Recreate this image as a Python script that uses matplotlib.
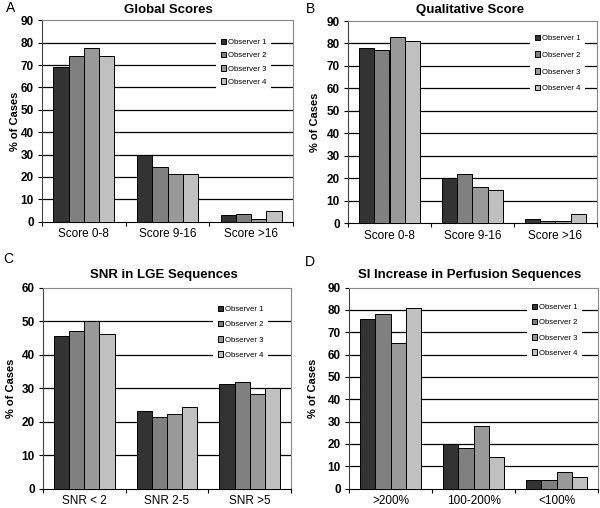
import matplotlib
matplotlib.use('Agg')
import matplotlib.pyplot as plt
import numpy as np

plt.rcParams['font.family'] = ['Liberation Sans', 'DejaVu Sans']

observers = ['Observer 1', 'Observer 2', 'Observer 3', 'Observer 4']
colors = ['#333333', '#808080', '#999999', '#c0c0c0']

# Panel A
a_title = 'Global Scores'
a_cats = ['Score 0-8', 'Score 9-16', 'Score >16']
a_obs1 = [69, 30, 2.7]
a_obs2 = [74, 24.3, 3.4]
a_obs3 = [77.5, 21.2, 1.3]
a_obs4 = [74, 21.2, 4.5]

# Panel B
b_title = 'Qualitative Score'
b_cats = ['Score 0-8', 'Score 9-16', 'Score >16']
b_obs1 = [78, 20, 2]
b_obs2 = [77, 22, 1]
b_obs3 = [83, 16, 1]
b_obs4 = [81, 15, 4]

# Panel C
c_title = 'SNR in LGE Sequences'
c_cats = ['SNR < 2', 'SNR 2-5', 'SNR >5']
c_obs1 = [45.5, 23.2, 31.3]
c_obs2 = [47.1, 21.4, 31.8]
c_obs3 = [50, 22.2, 28.2]
c_obs4 = [46.1, 24.3, 30]

# Panel D
d_title = 'SI Increase in Perfusion Sequences'
d_cats = ['>200%', '100-200%', '<100%']
d_obs1 = [76, 20, 3.7]
d_obs2 = [78, 18, 3.7]
d_obs3 = [65, 28, 7.2]
d_obs4 = [81, 14, 5.2]

W, H = 600, 508
fig = plt.figure(figsize=(6, 5.08), dpi=100)

def px_axes(l, r, t, b):
    return [l / W, 1 - b / H, (r - l) / W, (b - t) / H]

panels = [
    dict(letter='A', title=a_title, cats=a_cats, data=[a_obs1, a_obs2, a_obs3, a_obs4], ymax=90,
         box=(42, 293, 20.5, 221.5), title_xy=(168, 10), ylab_x=15, letter_xy=(11, 8),
         leg_xy=(216, 34), leg_sp=0.75),
    dict(letter='B', title=b_title, cats=b_cats, data=[b_obs1, b_obs2, b_obs3, b_obs4], ymax=90,
         box=(348, 597, 21, 223.3), title_xy=(470, 10), ylab_x=315, letter_xy=(310, 9),
         leg_xy=(530, 30), leg_sp=1.2),
    dict(letter='C', title=c_title, cats=c_cats, data=[c_obs1, c_obs2, c_obs3, c_obs4], ymax=60,
         box=(43, 291, 288, 488.5), title_xy=(164, 275), ylab_x=11, letter_xy=(8, 259),
         leg_xy=(213, 301), leg_sp=1.0),
    dict(letter='D', title=d_title, cats=d_cats, data=[d_obs1, d_obs2, d_obs3, d_obs4], ymax=90,
         box=(349, 598, 287.5, 488.5), title_xy=(470, 275), ylab_x=313, letter_xy=(310, 262),
         leg_xy=(527, 299), leg_sp=1.0),
]

bw = 0.1825
for p in panels:
    ax = fig.add_axes(px_axes(*p['box']))
    x = np.arange(len(p['cats'])) + 0.5
    for i, (vals, col, lab) in enumerate(zip(p['data'], colors, observers)):
        ax.bar(x + (i - 1.5) * bw, vals, width=bw, color=col, edgecolor='black',
               linewidth=0.7, label=lab, zorder=3)
    ax.set_xlim(0, 3)
    ax.set_ylim(0, p['ymax'])
    yt = np.arange(0, p['ymax'] + 1, 10)
    ax.set_yticks(yt)
    ax.set_yticklabels([str(v) for v in yt], fontweight='bold', fontsize=8.5)
    for v in yt[1:-1]:
        ax.axhline(v, color='black', lw=0.9, zorder=1)
    ax.set_xticks([0, 1, 2, 3])
    ax.set_xticklabels([])
    ax.set_xticks(x, minor=True)
    ax.set_xticklabels(p['cats'], minor=True, fontsize=8.5)
    ax.tick_params(axis='x', which='minor', length=0, pad=5)
    ax.tick_params(axis='x', which='major', length=3, direction='out', width=0.8)
    ax.tick_params(axis='y', length=3, direction='out', width=0.8, pad=3)
    for s in ['top', 'right']:
        ax.spines[s].set_color('#888888')
        ax.spines[s].set_linewidth(0.8)
    ax.spines['left'].set_color('#444444')
    ax.spines['bottom'].set_color('black')
    leg = ax.legend(loc='upper left', bbox_to_anchor=(p['leg_xy'][0] / W, 1 - p['leg_xy'][1] / H),
                    bbox_transform=fig.transFigure, fontsize=5.6, frameon=True,
                    handlelength=0.7, handleheight=0.7, handletextpad=0.2,
                    labelspacing=p['leg_sp'], borderpad=0.6, borderaxespad=0)
    leg.get_frame().set_facecolor('white')
    leg.get_frame().set_edgecolor('none')
    leg.get_frame().set_alpha(1)
    leg.set_zorder(5)
    fig.text(p['title_xy'][0] / W, 1 - p['title_xy'][1] / H, p['title'], ha='center', va='center',
             fontsize=9.5, fontweight='bold')
    fig.text(p['ylab_x'] / W, 1 - ((p['box'][2] + p['box'][3]) / 2) / H, '% of Cases',
             rotation=90, ha='center', va='center', fontsize=8, fontweight='bold')
    fig.text(p['letter_xy'][0] / W, 1 - p['letter_xy'][1] / H, p['letter'], ha='center',
             va='center', fontsize=10)

fig.savefig('out.png', dpi=100)
